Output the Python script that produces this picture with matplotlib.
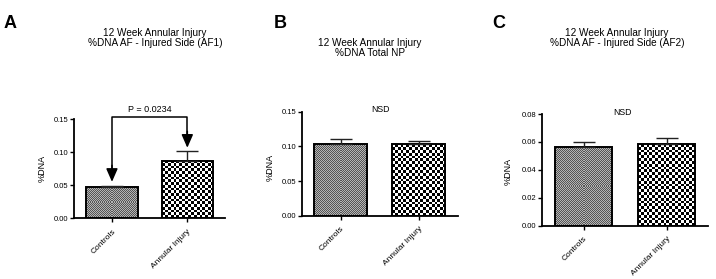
#!/usr/bin/env python3
"""12 week annular injury, %DNA bar charts (three panels, GraphPad-like style)."""
import matplotlib
matplotlib.use('Agg')
import matplotlib.pyplot as plt
import numpy as np

plt.rcParams['font.family'] = ['Liberation Sans', 'DejaVu Sans']

groups = ['Controls', 'Annular Injury']
panel_letters = ['A', 'B', 'C']
panel_titles = [
    '12 Week Annular Injury\n%DNA AF - Injured Side (AF1)',
    '12 Week Annular Injury\n%DNA Total NP',
    '12 Week Annular Injury\n%DNA AF - Injured Side (AF2)',
]
means_af1 = [0.047, 0.0868]
sem_af1 = [0.002, 0.0152]
means_np = [0.1037, 0.1029]
sem_np = [0.0063, 0.0043]
means_af2 = [0.0566, 0.0583]
sem_af2 = [0.0036, 0.0048]
ymax = [0.15, 0.15, 0.08]
yticks = [[0.00, 0.05, 0.10, 0.15], [0.00, 0.05, 0.10, 0.15],
          [0.00, 0.02, 0.04, 0.06, 0.08]]
notes = ['P = 0.0234', 'NSD', 'NSD']
# bracket for panel A: height of the bar and arrow tips
bracket_y = 0.1535
arrow_tips = [0.055, 0.1065]

W, H = 716, 279
fig = plt.figure(figsize=(W / 100, H / 100), dpi=100)


def px(x0, y0, x1, y1):
    # pixel box (top-left origin) -> figure fraction rect
    return [x0 / W, 1 - y1 / H, (x1 - x0) / W, (y1 - y0) / H]


axes_px = [(74.3, 119, 225, 218.3), (301.7, 111.7, 458, 215.7), (542, 114, 708, 225.7)]
title_px = [(155, 38), (370, 48), (617, 38.5)]
letter_px = [(10, 23), (280, 23), (499, 23)]
ylabel_px = [(42, 168), (270, 167), (508, 171)]
note_px = [None, (380, 110), (623, 113)]

data = [(means_af1, sem_af1), (means_np, sem_np), (means_af2, sem_af2)]


def checker(n_x, n_y, c1, c2):
    ii, jj = np.meshgrid(np.arange(n_x), np.arange(n_y))
    m = ((ii + jj) % 2).astype(float)
    a = np.array(matplotlib.colors.to_rgb(c1))
    b = np.array(matplotlib.colors.to_rgb(c2))
    return m[..., None] * a + (1 - m[..., None]) * b


width = 0.68
x = np.arange(len(groups))
for k in range(3):
    ax = fig.add_axes(px(*axes_px[k]))
    means, sems = data[k]
    ax.set_xlim(-0.5, 1.5)
    ax.set_ylim(0, ymax[k])
    bars = ax.bar(x, means, width, facecolor='none', edgecolor='black',
                  linewidth=1.4, zorder=3)
    # checkerboard fills clipped to the bars
    for i, b in enumerate(bars):
        x0, y0 = b.get_x(), 0
        x1, y1 = x0 + b.get_width(), b.get_height()
        (dx0, dy0), (dx1, dy1) = ax.transData.transform([(x0, y0), (x1, y1)])
        cell = 1.0 if i == 0 else 2.8
        nx = max(2, int(round((dx1 - dx0) / cell)))
        ny = max(2, int(round((dy1 - dy0) / cell)))
        if i == 0:
            img = checker(nx, ny, '#555555', '#b5b5b5')
        else:
            img = checker(nx, ny, 'black', 'white')
        im = ax.imshow(img, extent=(x0, x1, y0, y1), aspect='auto',
                       interpolation='nearest', zorder=2, origin='lower')
        im.set_clip_path(b)
    ax.set_xlim(-0.5, 1.5)
    ax.set_ylim(0, ymax[k])
    ax.errorbar(x, means, yerr=[np.zeros(2), sems], fmt='none', ecolor='#222222',
                elinewidth=1.0, capsize=8, capthick=1.0, zorder=4)

    for s in ['top', 'right']:
        ax.spines[s].set_visible(False)
    for s in ['left', 'bottom']:
        ax.spines[s].set_linewidth(1.3)
    ax.set_yticks(yticks[k])
    ax.set_yticklabels([f'{v:.2f}' for v in yticks[k]], fontsize=5.5)
    ax.tick_params(axis='y', length=3, width=1, pad=1)
    ax.set_xticks(x)
    ax.set_xticklabels(groups, fontsize=6, rotation=45, ha='right', va='top',
                       rotation_mode='anchor')
    ax.tick_params(axis='x', length=3, width=1, pad=4)

    fig.text(title_px[k][0] / W, 1 - title_px[k][1] / H, panel_titles[k],
             ha='center', va='center', fontsize=7.2, linespacing=1.0)
    fig.text(letter_px[k][0] / W, 1 - letter_px[k][1] / H, panel_letters[k],
             ha='center', va='center', fontsize=13, fontweight='bold')
    fig.text(ylabel_px[k][0] / W, 1 - ylabel_px[k][1] / H, '%DNA',
             ha='center', va='center', fontsize=6.5, rotation=90)

    if k == 0:
        ax.plot([x[0], x[0], x[1], x[1]],
                [arrow_tips[0] + 0.02, bracket_y, bracket_y, arrow_tips[1] + 0.02],
                color='black', lw=1.1, clip_on=False, zorder=5)
        for xi, tip in zip(x, arrow_tips):
            ax.annotate('', xy=(xi, tip), xytext=(xi, tip + 0.025),
                        arrowprops=dict(arrowstyle='-|>,head_length=0.8,head_width=0.35',
                                        color='black', lw=1.1, shrinkA=0, shrinkB=0),
                        annotation_clip=False, zorder=5)
        ax.text(0.5, bracket_y + 0.011, notes[k], ha='center', va='center',
                fontsize=6.5, clip_on=False)
    else:
        fig.text(note_px[k][0] / W, 1 - note_px[k][1] / H, notes[k],
                 ha='center', va='center', fontsize=6.3)

fig.savefig('out.png', dpi=100)
